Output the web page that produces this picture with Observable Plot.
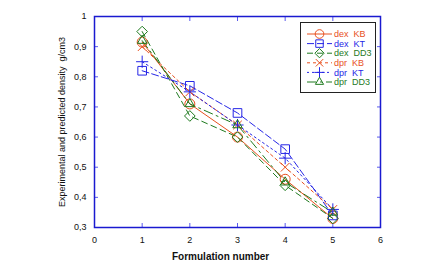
<!DOCTYPE html>
<html><head><meta charset="utf-8">
<script src="https://cdn.jsdelivr.net/npm/d3@7"></script>
<script src="https://cdn.jsdelivr.net/npm/@observablehq/plot@0.6"></script>
<style>
body{margin:0;background:#fff;font-family:"Liberation Sans",Arial,sans-serif;}
#wrap{position:relative;width:424px;height:273px;}
.lab{position:absolute;white-space:pre;color:#111;}
#legend{position:absolute;left:300px;top:22px;width:76px;height:71px;border:1px solid #222;background:#fff;box-sizing:border-box;}
</style></head><body>
<div id="wrap"></div>
<script>
const formulations = [1, 2, 3, 4, 5];
const seriesNames = ["dex  KB", "dex  KT", "dex  DD3", "dpr  KB", "dpr  KT", "dpr  DD3"];
const dexKB  = [0.915, 0.71, 0.60, 0.46, 0.33];
const dexKT  = [0.82, 0.77, 0.68, 0.56, 0.34];
const dexDD3 = [0.95, 0.67, 0.60, 0.44, 0.33];
const dprKB  = [0.90, 0.75, 0.64, 0.50, 0.36];
const dprKT  = [0.85, 0.75, 0.64, 0.53, 0.36];
const dprDD3 = [0.92, 0.71, 0.64, 0.45, 0.35];
const xTicks = [0, 1, 2, 3, 4, 5, 6];
const yTicks = [0.3, 0.4, 0.5, 0.6, 0.7, 0.8, 0.9, 1];
const xLabel = "Formulation number";
const yLabel = "Experimental and predicted density  g/cm3";

const RED = "#e8501e", BLUE = "#2626e6", GREEN = "#1e7a1e", FRAME = "#1a1ad0";
const styles = [
  {color: RED,   dash: null,       symbol: "circle",   r: 5},
  {color: BLUE,  dash: "7,3",      symbol: "square2",  r: 5.5},
  {color: GREEN, dash: "6,4",      symbol: "diamond2", r: 4.8},
  {color: RED,   dash: "3,3",      symbol: "times",    r: 4},
  {color: BLUE,  dash: "2,3",      symbol: "plus",     r: 4},
  {color: GREEN, dash: "9,4,2,4",  symbol: "triangle2",r: 4.5}
];
const seriesValues = [dexKB, dexKT, dexDD3, dprKB, dprKT, dprDD3];
const rows = seriesValues.map((vals, i) => ({name: seriesNames[i], pts: formulations.map((x, j) => ({x, y: vals[j], s: seriesNames[i]}))}));

const fmt = d => String(d).replace(".", ",");
const TICK = "#5a5aee";
const marks = [];
// inward ticks on all sides (drawn outward then shifted inside)
marks.push(Plot.axisX(xTicks.slice(1, -1), {anchor: "bottom", tickSize: 4, dy: -4, tickFormat: () => "", stroke: TICK, label: null}));
marks.push(Plot.axisX(xTicks.slice(1, -1), {anchor: "top", tickSize: 4, dy: 4, tickFormat: () => "", stroke: TICK, label: null}));
marks.push(Plot.axisY(yTicks.slice(1, -1), {anchor: "left", tickSize: 4, dx: 4, tickFormat: () => "", stroke: TICK, label: null}));
marks.push(Plot.axisY(yTicks.slice(1, -1), {anchor: "right", tickSize: 4, dx: -4, tickFormat: () => "", stroke: TICK, label: null}));
// tick labels
marks.push(Plot.axisX(xTicks, {anchor: "bottom", tickSize: 0, tickPadding: 9, tickFormat: fmt, label: null, fontSize: 9, fill: "#111"}));
marks.push(Plot.axisY(yTicks, {anchor: "left", tickSize: 0, tickPadding: 8, tickFormat: fmt, label: null, fontSize: 9, fill: "#111"}));
rows.forEach((r, i) => {
  const st = styles[i];
  marks.push(Plot.line(r.pts, {x: "x", y: "y", stroke: st.color, strokeWidth: 1, strokeDasharray: st.dash}));
});
rows.forEach((r, i) => {
  const st = styles[i];
  marks.push(Plot.dot(r.pts, {x: "x", y: "y", stroke: st.color, fill: "none", symbol: st.symbol, r: st.r, strokeWidth: 1}));
});
marks.push(Plot.frame({stroke: FRAME, strokeWidth: 1.5}));

const chart = Plot.plot({
  width: 424, height: 273,
  marginLeft: 94, marginRight: 44, marginTop: 16, marginBottom: 46,
  style: {fontFamily: "'Liberation Sans', Arial, sans-serif", background: "#fff"},
  x: {domain: [0, 6], axis: null},
  y: {domain: [0.3, 1], axis: null},
  marks
});
const wrap = document.getElementById("wrap");
wrap.appendChild(chart);

// axis titles
const xl = document.createElement("div");
xl.className = "lab"; xl.textContent = xLabel;
xl.style.cssText += "left:172px;top:251px;font-size:10px;font-weight:bold;";
wrap.appendChild(xl);
const yl = document.createElement("div");
yl.className = "lab"; yl.textContent = yLabel;
yl.style.cssText += "left:62px;top:122px;font-size:9px;transform:translate(-50%,-50%) rotate(-90deg);";
wrap.appendChild(yl);

// legend
const leg = document.createElement("div");
leg.id = "legend";
wrap.appendChild(leg);
const lsvg = d3.select(leg).append("svg").attr("width", 74).attr("height", 69);
const sym = {circle: d3.symbolCircle, square2: d3.symbolSquare2, diamond2: d3.symbolDiamond2, times: d3.symbolTimes, plus: d3.symbolPlus, triangle2: d3.symbolTriangle2};
seriesNames.forEach((n, i) => {
  const st = styles[i];
  const y = 11 + i * 9.6;
  const g = lsvg.append("g");
  g.append("line").attr("x1", 6).attr("x2", 31).attr("y1", y).attr("y2", y)
    .attr("stroke", st.color).attr("stroke-dasharray", st.dash);
  g.append("path").attr("d", d3.symbol(sym[st.symbol], Math.PI * st.r * st.r * 0.75)())
    .attr("transform", `translate(18.5,${y})`).attr("fill", "none").attr("stroke", st.color);
  g.append("text").attr("x", 33).attr("y", y).attr("dy", "0.35em").attr("font-size", 9)
    .attr("fill", st.color).style("white-space", "pre").text(n);
});
</script>
</body></html>
